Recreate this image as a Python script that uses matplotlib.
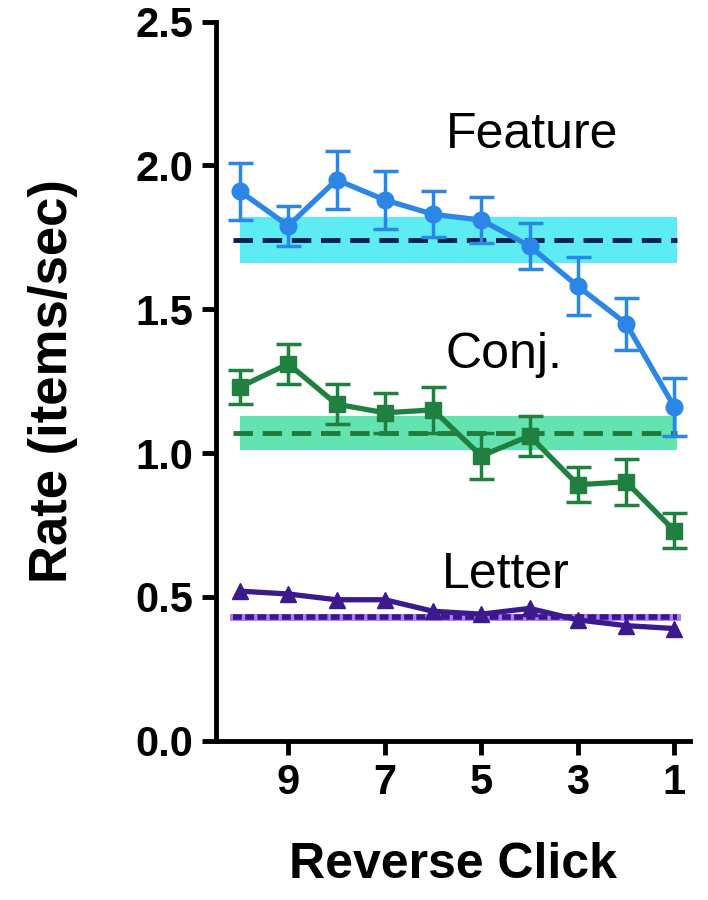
import matplotlib
matplotlib.use("Agg")
import matplotlib.pyplot as plt
import numpy as np

plt.rcParams["font.family"] = ["Liberation Sans", "DejaVu Sans"]

clicks = [10, 9, 8, 7, 6, 5, 4, 3, 2, 1]

feature_rate = [1.91, 1.79, 1.95, 1.88, 1.83, 1.81, 1.72, 1.58, 1.45, 1.16]
feature_err = [0.10, 0.07, 0.10, 0.10, 0.08, 0.08, 0.08, 0.10, 0.09, 0.10]
feature_base, feature_band = 1.74, (1.66, 1.82)

conj_rate = [1.23, 1.31, 1.17, 1.14, 1.15, 0.99, 1.06, 0.89, 0.90, 0.73]
conj_err = [0.06, 0.07, 0.07, 0.07, 0.08, 0.08, 0.07, 0.06, 0.08, 0.06]
conj_base, conj_band = 1.07, (1.01, 1.13)

letter_rate = [0.52, 0.51, 0.49, 0.49, 0.45, 0.44, 0.46, 0.42, 0.40, 0.39]
letter_base = 0.43

fig = plt.figure(figsize=(7.08, 9.0), dpi=100)
ax = fig.add_axes([0.305, 0.177, 0.67, 0.799])

x0, x1 = 10, 1
# baseline bands and lines
ax.fill_between([x0, x1 - 0.05], *feature_band, color="#5cecf2", lw=0, zorder=1)
ax.plot([x0 + 0.15, x1 - 0.05], [feature_base] * 2, ls=(0, (4, 2)), color="#0b1f4f", lw=3.5, zorder=2)
ax.fill_between([x0, x1 - 0.05], *conj_band, color="#62e3b0", lw=0, zorder=1)
ax.plot([x0 + 0.15, x1 - 0.05], [conj_base] * 2, ls=(0, (4, 2)), color="#1f7a3c", lw=3.5, zorder=2)
ax.plot([x0 + 0.15, x1 - 0.05], [letter_base] * 2, color="#b47cf2", lw=5, zorder=2)
ax.plot([x0 + 0.15, x1 - 0.05], [letter_base] * 2, ls=(0, (1.6, 0.6)), color="#3a1590", lw=4, zorder=2)

ax.errorbar(clicks, feature_rate, yerr=feature_err, color="#2b86e6", marker="o", ms=12,
            lw=3.8, elinewidth=2.5, capsize=9, capthick=2.5, zorder=4)
ax.errorbar(clicks, conj_rate, yerr=conj_err, color="#1f8040", marker="s", ms=11,
            lw=3.8, elinewidth=2.5, capsize=9, capthick=2.5, zorder=4)
ax.plot(clicks, letter_rate, color="#3a1a8c", marker="^", ms=11, lw=3.8, zorder=4)

ax.text(3.95, 2.062, "Feature", fontsize=36, ha="center", va="baseline")
ax.text(4.53, 1.297, "Conj.", fontsize=36, ha="center", va="baseline")
ax.text(4.49, 0.532, "Letter", fontsize=36, ha="center", va="baseline")

ax.set_xlim(10.5, 0.67)
ax.set_ylim(0, 2.5)
ax.set_xticks([9, 7, 5, 3, 1])
ax.set_yticks([0.0, 0.5, 1.0, 1.5, 2.0, 2.5])
ax.set_yticklabels(["0.0", "0.5", "1.0", "1.5", "2.0", "2.5"])
for s in ["top", "right"]:
    ax.spines[s].set_visible(False)
for s in ["left", "bottom"]:
    ax.spines[s].set_linewidth(3.5)
ax.tick_params(width=3.5, length=10, labelsize=30, pad=6)
for lab in ax.get_xticklabels() + ax.get_yticklabels():
    lab.set_fontweight("bold")
ax.set_xlabel("Reverse Click", fontsize=36, fontweight="bold", labelpad=28)
ax.set_ylabel("Rate (items/sec)", fontsize=38, fontweight="bold", labelpad=42)

fig.savefig("out.png", dpi=100)
